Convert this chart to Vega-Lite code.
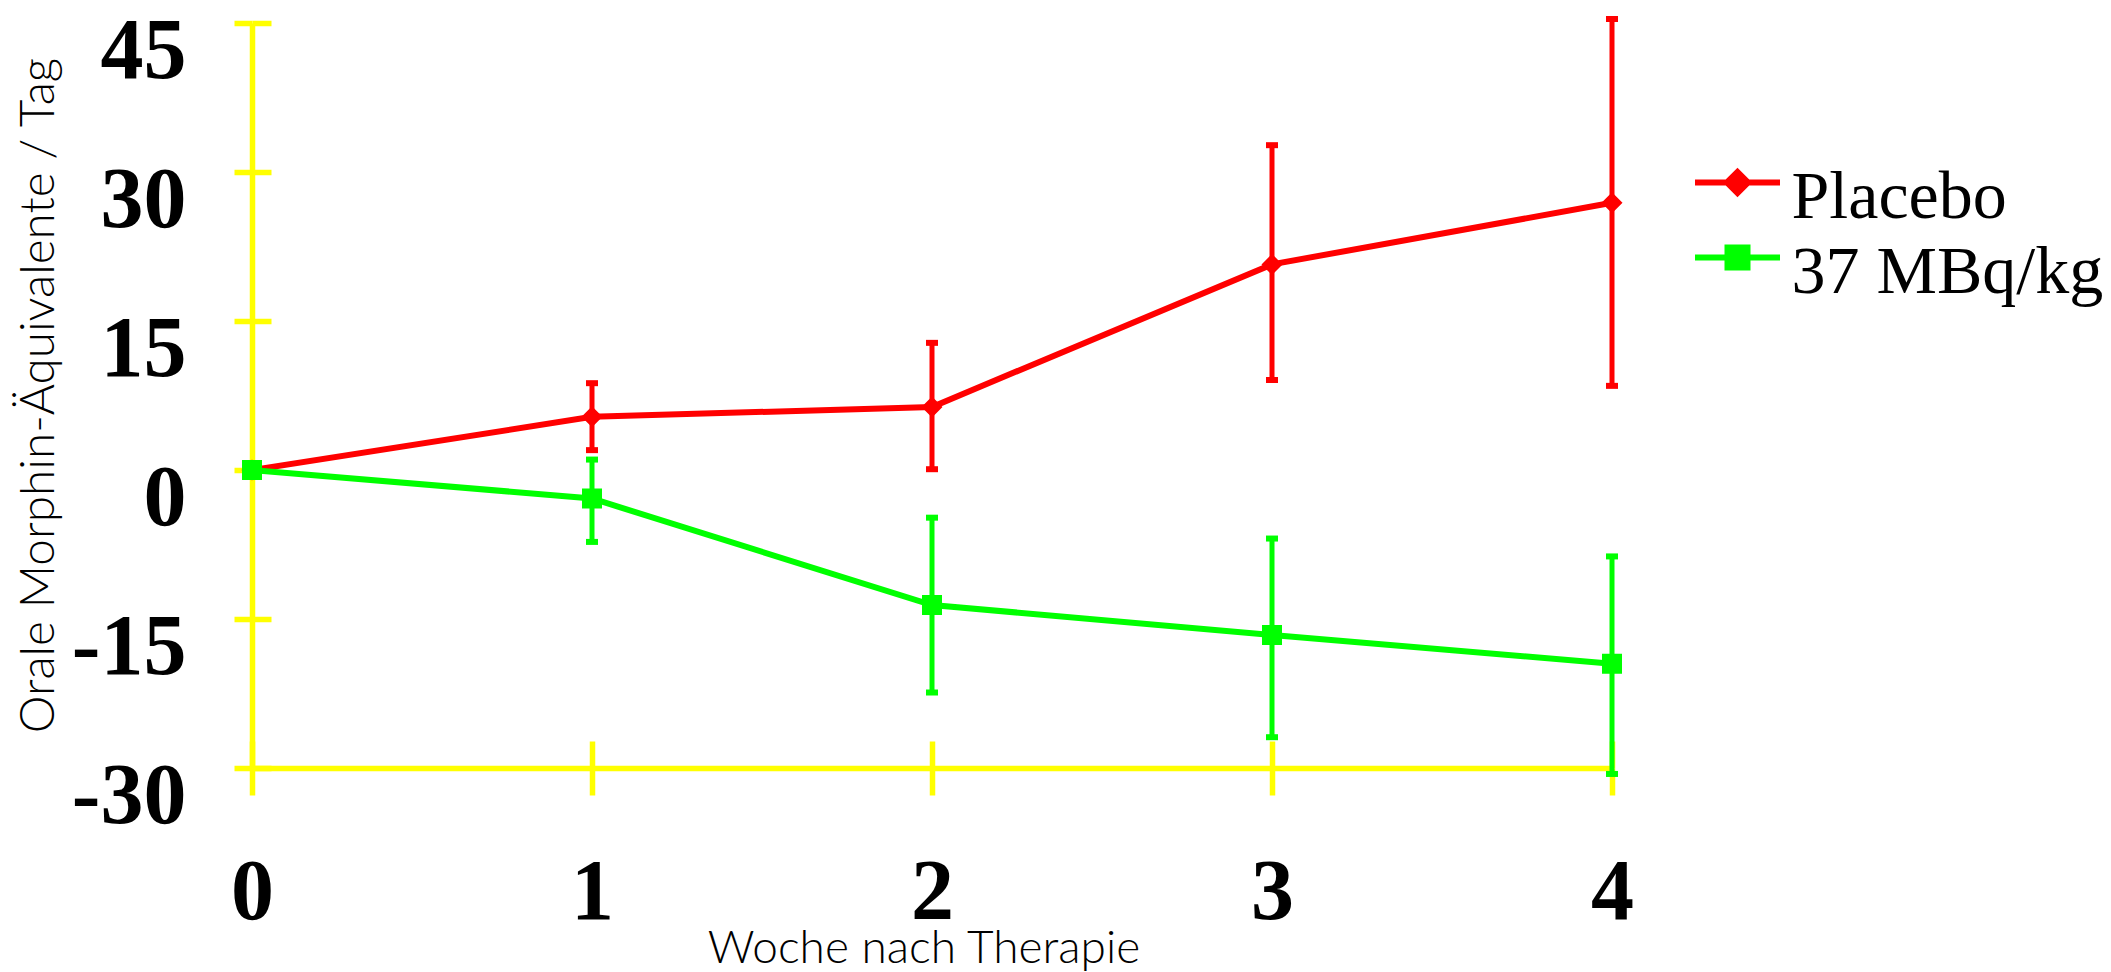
{
  "$schema": "https://vega.github.io/schema/vega-lite/v6.json",
  "width": 1360,
  "height": 745,
  "autosize": {"type": "none"},
  "padding": {"left": 252, "top": 23, "right": 499, "bottom": 204},
  "background": "white",
  "config": {"view": {"stroke": null}},
  "data": {
    "values": [
      {"series": "Placebo", "week": 0, "mean": 0, "lo": null, "hi": null},
      {"series": "Placebo", "week": 1, "mean": 5.35, "lo": 2.0, "hi": 8.74},
      {"series": "Placebo", "week": 2, "mean": 6.35, "lo": 0.08, "hi": 12.8},
      {"series": "Placebo", "week": 3, "mean": 20.7, "lo": 9.06, "hi": 32.7},
      {"series": "Placebo", "week": 4, "mean": 26.9, "lo": 8.47, "hi": 45.4},
      {"series": "37 MBq/kg", "week": 0, "mean": 0, "lo": null, "hi": null},
      {"series": "37 MBq/kg", "week": 1, "mean": -2.87, "lo": -7.24, "hi": 1.05},
      {"series": "37 MBq/kg", "week": 2, "mean": -13.6, "lo": -22.4, "hi": -4.8},
      {"series": "37 MBq/kg", "week": 3, "mean": -16.6, "lo": -26.9, "hi": -6.9},
      {"series": "37 MBq/kg", "week": 4, "mean": -19.5, "lo": -30.6, "hi": -8.7}
    ]
  },
  "layer": [
    {
      "mark": {"type": "rule", "strokeWidth": 5},
      "encoding": {
        "x": {
          "field": "week", "type": "quantitative",
          "scale": {"domain": [0, 4], "nice": false, "zero": false},
          "axis": {
            "values": [0, 1, 2, 3, 4], "orient": "bottom", "format": "d",
            "domainColor": "#ffff00", "domainWidth": 5.5,
            "tickColor": "#ffff00", "tickWidth": 5.5, "tickSize": 27,
            "grid": false,
            "labelFont": "Liberation Serif", "labelFontWeight": "bold", "labelFontSize": 86,
            "labelColor": "black", "labelBaseline": "alphabetic", "labelPadding": 123,
            "labelFlush": false, "labelOverlap": false, "labelBound": false,
            "title": "Woche nach Therapie", "titleFont": "Lato", "titleFontWeight": 300,
            "titleFontSize": 46, "titleColor": "black", "titleX": 671.5, "titleY": 194,
            "titleBaseline": "alphabetic", "titleAlign": "center"
          }
        },
        "y": {
          "field": "lo", "type": "quantitative",
          "scale": {"domain": [-30, 45], "nice": false, "zero": false},
          "axis": {
            "values": [-30, -15, 0, 15, 30, 45], "orient": "left",
            "domainColor": "#ffff00", "domainWidth": 5.5,
            "tickColor": "#ffff00", "tickWidth": 5.5, "tickSize": 18,
            "grid": false,
            "labelFont": "Liberation Serif", "labelFontWeight": "bold", "labelFontSize": 86,
            "labelColor": "black", "labelBaseline": "alphabetic", "labelOffset": 54,
            "labelPadding": 48, "labelAlign": "right",
            "labelFlush": false, "labelOverlap": false, "labelBound": false,
            "labelExpr": "replace(datum.label, '−', '-')",
            "title": "Orale Morphin-Äquivalente / Tag", "titleFont": "Lato", "titleFontWeight": 300,
            "titleFontSize": 47.7, "titleColor": "black", "titleX": -199, "titleY": 372,
            "titleBaseline": "alphabetic", "titleAlign": "center", "titleAngle": -90
          }
        },
        "y2": {"field": "hi"},
        "color": {
          "field": "series", "type": "nominal",
          "scale": {"domain": ["37 MBq/kg", "Placebo"], "range": ["#00ff00", "#ff0000"]},
          "legend": null
        }
      }
    },
    {
      "mark": {"type": "tick", "orient": "horizontal", "size": 12, "thickness": 6, "opacity": 1},
      "encoding": {
        "x": {"field": "week", "type": "quantitative", "axis": null},
        "y": {"field": "lo", "type": "quantitative", "axis": null},
        "color": {"field": "series", "type": "nominal", "legend": null}
      }
    },
    {
      "mark": {"type": "tick", "orient": "horizontal", "size": 12, "thickness": 6, "opacity": 1},
      "encoding": {
        "x": {"field": "week", "type": "quantitative", "axis": null},
        "y": {"field": "hi", "type": "quantitative", "axis": null},
        "color": {"field": "series", "type": "nominal", "legend": null}
      }
    },
    {
      "mark": {"type": "line", "strokeWidth": 6},
      "encoding": {
        "x": {
          "field": "week", "type": "quantitative",
          "axis": {
            "values": [0, 1, 2, 3, 4], "orient": "bottom", "domain": false, "labels": false,
            "grid": false, "title": null,
            "tickColor": "#ffff00", "tickWidth": 5.5, "tickSize": -27
          }
        },
        "y": {
          "field": "mean", "type": "quantitative",
          "axis": {
            "values": [-30, -15, 0, 15, 30, 45], "orient": "left", "domain": false, "labels": false,
            "grid": false, "title": null,
            "tickColor": "#ffff00", "tickWidth": 5.5, "tickSize": -19
          }
        },
        "color": {"field": "series", "type": "nominal", "legend": null}
      }
    },
    {
      "mark": {"type": "point", "filled": true, "size": 400, "strokeWidth": 0, "opacity": 1},
      "encoding": {
        "x": {"field": "week", "type": "quantitative", "axis": null},
        "y": {"field": "mean", "type": "quantitative", "axis": null},
        "fill": {
          "field": "series", "type": "nominal",
          "scale": {"domain": ["Placebo", "37 MBq/kg"], "range": ["#ff0000", "#00ff00"]},
          "legend": {
            "title": null, "orient": "none", "legendX": 1451.5, "legendY": 141, "padding": 0,
            "symbolSize": 400, "symbolOffset": 0, "labelOffset": 20, "symbolOpacity": 1,
            "labelFont": "Liberation Serif", "labelFontSize": 68, "labelColor": "black",
            "rowPadding": 3, "labelLimit": 0, "symbolStrokeWidth": 6,
            "encode": {
              "symbols": {"update": {"stroke": {"scale": "fill", "field": "value"}, "strokeWidth": {"value": 6}, "y": {"value": 18.4}}}
            }
          }
        },
        "shape": {
          "field": "series", "type": "nominal",
          "scale": {
            "domain": ["Placebo", "37 MBq/kg"],
            "range": ["M-4.25,0L4.25,0M-1.05,0L0,-1.05L1.05,0L0,1.05Z", "M-4.25,0L4.25,0M-1,-1L1,-1L1,1L-1,1Z"]
          },
          "legend": {
            "title": null, "orient": "none", "legendX": 1451.5, "legendY": 141, "padding": 0,
            "symbolSize": 400, "symbolOffset": 0, "labelOffset": 20, "symbolOpacity": 1,
            "labelFont": "Liberation Serif", "labelFontSize": 68, "labelColor": "black",
            "rowPadding": 3, "labelLimit": 0, "symbolStrokeWidth": 6,
            "encode": {
              "symbols": {"update": {"stroke": {"scale": "fill", "field": "value"}, "strokeWidth": {"value": 6}, "y": {"value": 18.4}}}
            }
          }
        }
      }
    }
  ],
  "resolve": {"axis": {"x": "independent", "y": "independent"}}
}
